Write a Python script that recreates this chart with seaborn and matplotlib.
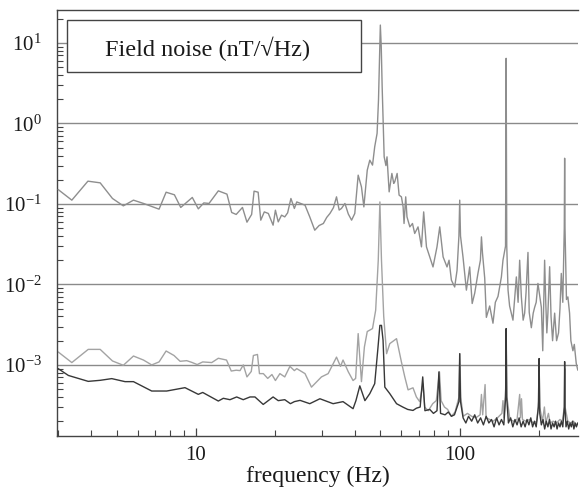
import matplotlib
matplotlib.use("Agg")
import matplotlib.pyplot as plt
import seaborn as sns
import pandas as pd
from matplotlib.ticker import FixedLocator, FixedFormatter, NullFormatter, LogLocator
from matplotlib.patches import Rectangle

# ---------------- data ----------------
freq_top = [3.0, 3.38, 3.89, 4.33, 4.82, 5.30, 5.79, 6.32, 7.24, 7.70,
            8.28, 8.75, 9.68, 10.2, 10.7, 11.2, 12.15, 13.1, 13.65, 14.2,
            15.0, 15.6, 16.25, 16.6, 17.2, 17.6, 18.15, 18.8, 19.6, 20.0,
            20.5, 21.1, 21.7, 22.25, 22.9, 23.6, 24.1, 25.9, 27.0, 28.2,
            29.3, 30.4, 31.3, 32.2, 33.2, 34.1, 34.9, 35.6, 36.7, 37.8,
            38.9, 40.0, 41.2, 42.4, 43.3, 44.6, 45.6, 46.7, 47.6, 48.6,
            49.2, 49.7, 50.0, 50.4, 50.8, 51.7, 52.5, 53.0, 54.0, 55.3,
            56.2, 56.7, 57.9, 58.9, 60.1, 61.0, 61.5, 62.4, 63.1, 64.7,
            66.2, 67.5, 69.5, 71.6, 73.0, 74.8, 77.0, 79.2, 82.0, 84.0,
            86.5, 89.5, 91.1, 93.0, 95.7, 97.7, 99.3, 100.0, 100.7, 102.9,
            106.0, 109.1, 111.5, 114.0, 117.3, 119.8, 120.9, 122.0, 124.4, 126.2,
            129.9, 133.7, 136.5, 139.7, 143.9, 145.9, 149.2, 150.0, 150.8, 152.5,
            154.6, 159.2, 164.0, 166.5, 168.8, 171.3, 174.0, 176.3, 178.5, 181.5,
            183.5, 186.9, 190.0, 192.4, 195.0, 198.0, 204.0, 206.5, 209.9, 212.0,
            214.0, 216.0, 219.3, 222.0, 225.0, 229.1, 233.0, 237.0, 240.0, 242.8,
            246.0, 249.2, 250.0, 250.8, 254.0, 257.2, 261.0, 264.0, 268.7, 272.0,
            276.7, 280.5]
noise_top = [0.151, 0.1115, 0.192, 0.183, 0.117, 0.0947, 0.1115, 0.1015, 0.0862, 0.140,
             0.130, 0.0905, 0.1205, 0.0869, 0.103, 0.1015, 0.1455, 0.1325, 0.0784, 0.0741,
             0.0905, 0.0594, 0.0741, 0.1443, 0.140, 0.0629, 0.0797, 0.0762, 0.0545, 0.0837,
             0.0599, 0.0726, 0.0691, 0.0775, 0.117, 0.0879, 0.106, 0.0966, 0.069, 0.0472,
             0.054, 0.0572, 0.068, 0.0762, 0.090, 0.1226, 0.084, 0.0879, 0.1015, 0.075,
             0.0629, 0.0762, 0.228, 0.163, 0.092, 0.263, 0.350, 0.304, 0.513, 0.753,
             1.95, 8.0, 16.7, 9.0, 2.86, 0.385, 0.30, 0.385, 0.1414, 0.2395,
             0.18, 0.1883, 0.2395, 0.1287, 0.1226, 0.092, 0.0572, 0.1226, 0.0691, 0.0519,
             0.0572, 0.043, 0.0519, 0.0293, 0.0797, 0.0293, 0.022, 0.0165, 0.0293, 0.0519,
             0.022, 0.0165, 0.020, 0.0113, 0.0093, 0.015, 0.040, 0.1115, 0.040, 0.022,
             0.0085, 0.0165, 0.0058, 0.0078, 0.0138, 0.020, 0.039, 0.0245, 0.012, 0.0039,
             0.0054, 0.0033, 0.0060, 0.0071, 0.0124, 0.020, 0.030, 6.45, 0.030, 0.0085,
             0.0054, 0.0036, 0.0124, 0.0060, 0.020, 0.0070, 0.0036, 0.0044, 0.0080, 0.025,
             0.0045, 0.0029, 0.0044, 0.0052, 0.0060, 0.0103, 0.0052, 0.0015, 0.020, 0.0060,
             0.0025, 0.0044, 0.0166, 0.0040, 0.0020, 0.0044, 0.0020, 0.0025, 0.0050, 0.0137,
             0.0060, 0.050, 0.37, 0.050, 0.0065, 0.0070, 0.0044, 0.0020, 0.0015, 0.0018,
             0.00104, 0.00086]

freq_mid = [3.0, 3.38, 3.90, 4.33, 4.82, 5.30, 5.79, 6.32, 6.79, 7.24,
            7.70, 8.25, 8.70, 9.22, 9.68, 10.1, 10.6, 11.47, 12.15, 13.05,
            13.6, 14.2, 14.68, 15.11, 15.6, 16.2, 16.5, 17.1, 17.4, 18.0,
            18.7, 19.4, 20.0, 20.8, 21.7, 22.7, 23.6, 24.1, 25.9, 27.4,
            29.9, 31.7, 34.1, 35.3, 36.1, 37.8, 39.4, 40.3, 41.2, 42.4,
            43.5, 44.6, 46.7, 48.0, 49.1, 49.8, 50.5, 51.5, 52.8, 54.3,
            57.6, 60.1, 61.9, 63.7, 66.5, 68.5, 70.5, 72.6, 73.6, 76.0,
            79.0, 81.5, 83.8, 85.0, 87.5, 90.0, 93.0, 96.0, 99.4, 100.1,
            100.9, 103.0, 107.0, 111.0, 115.0, 119.5, 120.9, 122.2, 124.8, 125.9,
            130.0, 134.0, 139.0, 144.5, 145.9, 147.2, 149.4, 150.2, 151.0, 155.0,
            160.0, 165.0, 168.8, 170.0, 171.5, 173.0, 178.0, 184.0, 190.0, 196.0,
            199.3, 200.2, 201.0, 206.0, 209.5, 212.0, 217.0, 220.0, 226.0, 233.0,
            240.0, 245.0, 249.4, 250.2, 251.0, 257.0, 264.0, 270.0, 276.0, 280.5]
noise_mid = [0.00145, 0.00107, 0.00156, 0.00156, 0.00112, 0.00099, 0.00129, 0.00115, 0.00100, 0.00109,
             0.00149, 0.00131, 0.00111, 0.00113, 0.00107, 0.00101, 0.00109, 0.00107, 0.00121, 0.00115,
             0.00084, 0.00086, 0.00085, 0.00100, 0.00071, 0.00083, 0.00131, 0.00135, 0.00078, 0.00078,
             0.00068, 0.00076, 0.00064, 0.00078, 0.00071, 0.00096, 0.00085, 0.00090, 0.00078, 0.00053,
             0.00071, 0.00078, 0.00125, 0.00096, 0.00115, 0.00082, 0.00064, 0.00068, 0.00245, 0.00062,
             0.00167, 0.00260, 0.00283, 0.00478, 0.020, 0.106, 0.020, 0.0040, 0.00138, 0.00184,
             0.00212, 0.00109, 0.00071, 0.00049, 0.00052, 0.00040, 0.00035, 0.00058, 0.00030, 0.00027,
             0.00033, 0.00036, 0.00082, 0.00036, 0.00030, 0.00028, 0.00023, 0.00026, 0.00040, 0.00138,
             0.00040, 0.00023, 0.00025, 0.00023, 0.00022, 0.00024, 0.00043, 0.00024, 0.00057, 0.00022,
             0.00021, 0.00020, 0.00022, 0.00025, 0.00036, 0.00022, 0.00050, 0.00200, 0.00040, 0.00021,
             0.00020, 0.00021, 0.00043, 0.00022, 0.00038, 0.00021, 0.00020, 0.00021, 0.00019, 0.00020,
             0.00035, 0.00100, 0.00030, 0.00020, 0.00030, 0.00019, 0.00025, 0.00019, 0.00020, 0.00019,
             0.00021, 0.00020, 0.00030, 0.00090, 0.00030, 0.00020, 0.00019, 0.00020, 0.00018, 0.00019]

freq_low = [3.0, 3.28, 3.90, 4.33, 4.79, 5.38, 5.79, 6.79, 7.74, 9.08,
            10.2, 10.6, 12.15, 12.69, 13.45, 14.26, 15.1, 16.02, 16.73, 17.98,
            19.6, 20.5, 21.7, 22.8, 23.6, 24.8, 27.0, 29.5, 33.1, 36.1,
            39.4, 40.4, 41.8, 43.7, 45.6, 47.6, 49.0, 49.8, 50.5, 51.2,
            52.0, 54.3, 57.6, 60.8, 63.5, 66.5, 68.5, 70.8, 72.4, 73.8,
            77.0, 79.5, 82.0, 83.4, 84.6, 88.0, 90.5, 93.0, 95.5, 99.3,
            100.0, 100.7, 103.0, 105.5, 108.0, 111.0, 114.0, 117.0, 120.0, 123.0,
            126.0, 129.0, 132.0, 135.0, 138.0, 141.0, 144.0, 147.0, 149.3, 150.0,
            150.7, 153.0, 156.0, 159.0, 162.0, 165.0, 168.0, 171.0, 174.0, 177.0,
            180.0, 183.0, 186.0, 189.0, 192.0, 195.0, 198.8, 200.0, 201.2, 204.0,
            207.0, 210.0, 213.0, 216.0, 219.0, 222.0, 225.0, 228.0, 231.0, 234.0,
            237.0, 240.0, 243.0, 246.0, 249.3, 250.0, 250.7, 253.0, 256.0, 259.0,
            262.0, 265.0, 268.0, 271.0, 274.0, 277.0, 280.5]
noise_low = [0.00090, 0.00074, 0.000625, 0.000644, 0.000676, 0.00062, 0.00062, 0.000474, 0.000474, 0.000522,
             0.000431, 0.000455, 0.000356, 0.000385, 0.00037, 0.00040, 0.00037, 0.00040, 0.00040, 0.000323,
             0.00040, 0.00036, 0.00037, 0.00033, 0.00035, 0.000363, 0.00033, 0.00038, 0.00033, 0.00035,
             0.000286, 0.00036, 0.00055, 0.00036, 0.00044, 0.000585, 0.00167, 0.0031, 0.0031, 0.00202,
             0.00053, 0.00044, 0.00033, 0.00030, 0.00028, 0.000272, 0.00029, 0.00030, 0.00071, 0.00027,
             0.00028, 0.00025, 0.00027, 0.00082, 0.00025, 0.00024, 0.00026, 0.00023, 0.00024, 0.00035,
             0.00138, 0.00035, 0.00022, 0.00019, 0.00023, 0.00020, 0.00024, 0.00019, 0.00022, 0.00018,
             0.00023, 0.00019, 0.00021, 0.00017, 0.00022, 0.00018, 0.00021, 0.00018, 0.00040, 0.00283,
             0.00040, 0.00019, 0.00022, 0.00017, 0.00021, 0.00018, 0.00022, 0.00017, 0.00020, 0.00017,
             0.00021, 0.00018, 0.00022, 0.00017, 0.00020, 0.00017, 0.00030, 0.00120, 0.00025, 0.00018,
             0.00021, 0.00016, 0.00020, 0.00017, 0.00021, 0.00016, 0.00019, 0.00017, 0.00020, 0.00016,
             0.00019, 0.00017, 0.00020, 0.00017, 0.00030, 0.00110, 0.00030, 0.00017, 0.00020, 0.00016,
             0.00019, 0.00017, 0.00020, 0.00016, 0.00019, 0.00017, 0.00019]

ytick_vals = [1e-3, 1e-2, 1e-1, 1e0, 1e1]
ytick_labels = [r"$\mathregular{10^{-3}}$", r"$\mathregular{10^{-2}}$", r"$\mathregular{10^{-1}}$",
                r"$\mathregular{10^{0}}$", r"$\mathregular{10^{1}}$"]
xtick_vals = [10, 100]
xtick_labels = ["10", "100"]
legend_text = "Field noise (nT/\u221aHz)"
x_label = "frequency (Hz)"

assert len(freq_top) == len(noise_top)
assert len(freq_mid) == len(noise_mid)
assert len(freq_low) == len(noise_low)

# ---------------- style ----------------
sns.set_style("ticks")
plt.rcParams["font.family"] = ["Liberation Serif", "DejaVu Serif"]
plt.rcParams["mathtext.fontset"] = "custom"
plt.rcParams["mathtext.rm"] = "Liberation Serif"
plt.rcParams["mathtext.it"] = "Liberation Serif:italic"
plt.rcParams["mathtext.bf"] = "Liberation Serif:bold"

fig = plt.figure(figsize=(5.8, 4.88), dpi=100)
ax = fig.add_axes([0.0983, 0.1066, 0.8983, 0.8729])

df_top = pd.DataFrame({"f": freq_top, "v": noise_top})
df_mid = pd.DataFrame({"f": freq_mid, "v": noise_mid})
df_low = pd.DataFrame({"f": freq_low, "v": noise_low})

sns.lineplot(data=df_mid, x="f", y="v", ax=ax, color="#a3a3a3", lw=1.0,
             estimator=None, sort=False, zorder=2)
sns.lineplot(data=df_low, x="f", y="v", ax=ax, color="#383838", lw=1.0,
             estimator=None, sort=False, zorder=3)
sns.lineplot(data=df_top, x="f", y="v", ax=ax, color="#8e8e8e", lw=1.0,
             estimator=None, sort=False, zorder=4)

ax.set_xscale("log")
ax.set_yscale("log")
ax.set_xlim(2.97, 281)
ax.set_ylim(1.31e-4, 25.7)

ax.yaxis.set_major_locator(FixedLocator(ytick_vals))
ax.yaxis.set_major_formatter(FixedFormatter(ytick_labels))
ax.yaxis.set_minor_locator(LogLocator(base=10, subs=range(2, 10), numticks=20))
ax.yaxis.set_minor_formatter(NullFormatter())
ax.xaxis.set_major_locator(FixedLocator(xtick_vals))
ax.xaxis.set_major_formatter(FixedFormatter(xtick_labels))
ax.xaxis.set_minor_locator(LogLocator(base=10, subs=range(2, 10), numticks=20))
ax.xaxis.set_minor_formatter(NullFormatter())

ax.grid(False)
ax.yaxis.grid(True, which="major", color="#8a8a8a", lw=1.0)
ax.set_axisbelow(True)

ax.tick_params(axis="both", which="both", direction="in", color="#444444",
               labelsize=15, labelcolor="#1a1a1a")
ax.tick_params(axis="y", which="major", length=0, pad=11)
ax.tick_params(axis="y", which="minor", length=4, width=0.8)
ax.tick_params(axis="x", which="major", length=6, width=0.9, pad=7)
ax.tick_params(axis="x", which="minor", length=4.5, width=0.8)

for side in ["left", "bottom", "top"]:
    ax.spines[side].set_color("#444444")
    ax.spines[side].set_linewidth(1.0)
ax.spines["right"].set_visible(False)

ax.set_xlabel(x_label, fontsize=17, color="#1a1a1a", labelpad=1)
ax.set_ylabel("")

ax.add_patch(Rectangle((0.0192, 0.8545), 0.5643, 0.122, transform=ax.transAxes,
                       facecolor="white", edgecolor="#444444", lw=1.0, zorder=5))
ax.text(0.092, 0.892, legend_text, transform=ax.transAxes, ha="left", va="baseline",
        fontsize=17.5, color="#1a1a1a", zorder=6)

fig.savefig("out.png", dpi=100, facecolor="white")
